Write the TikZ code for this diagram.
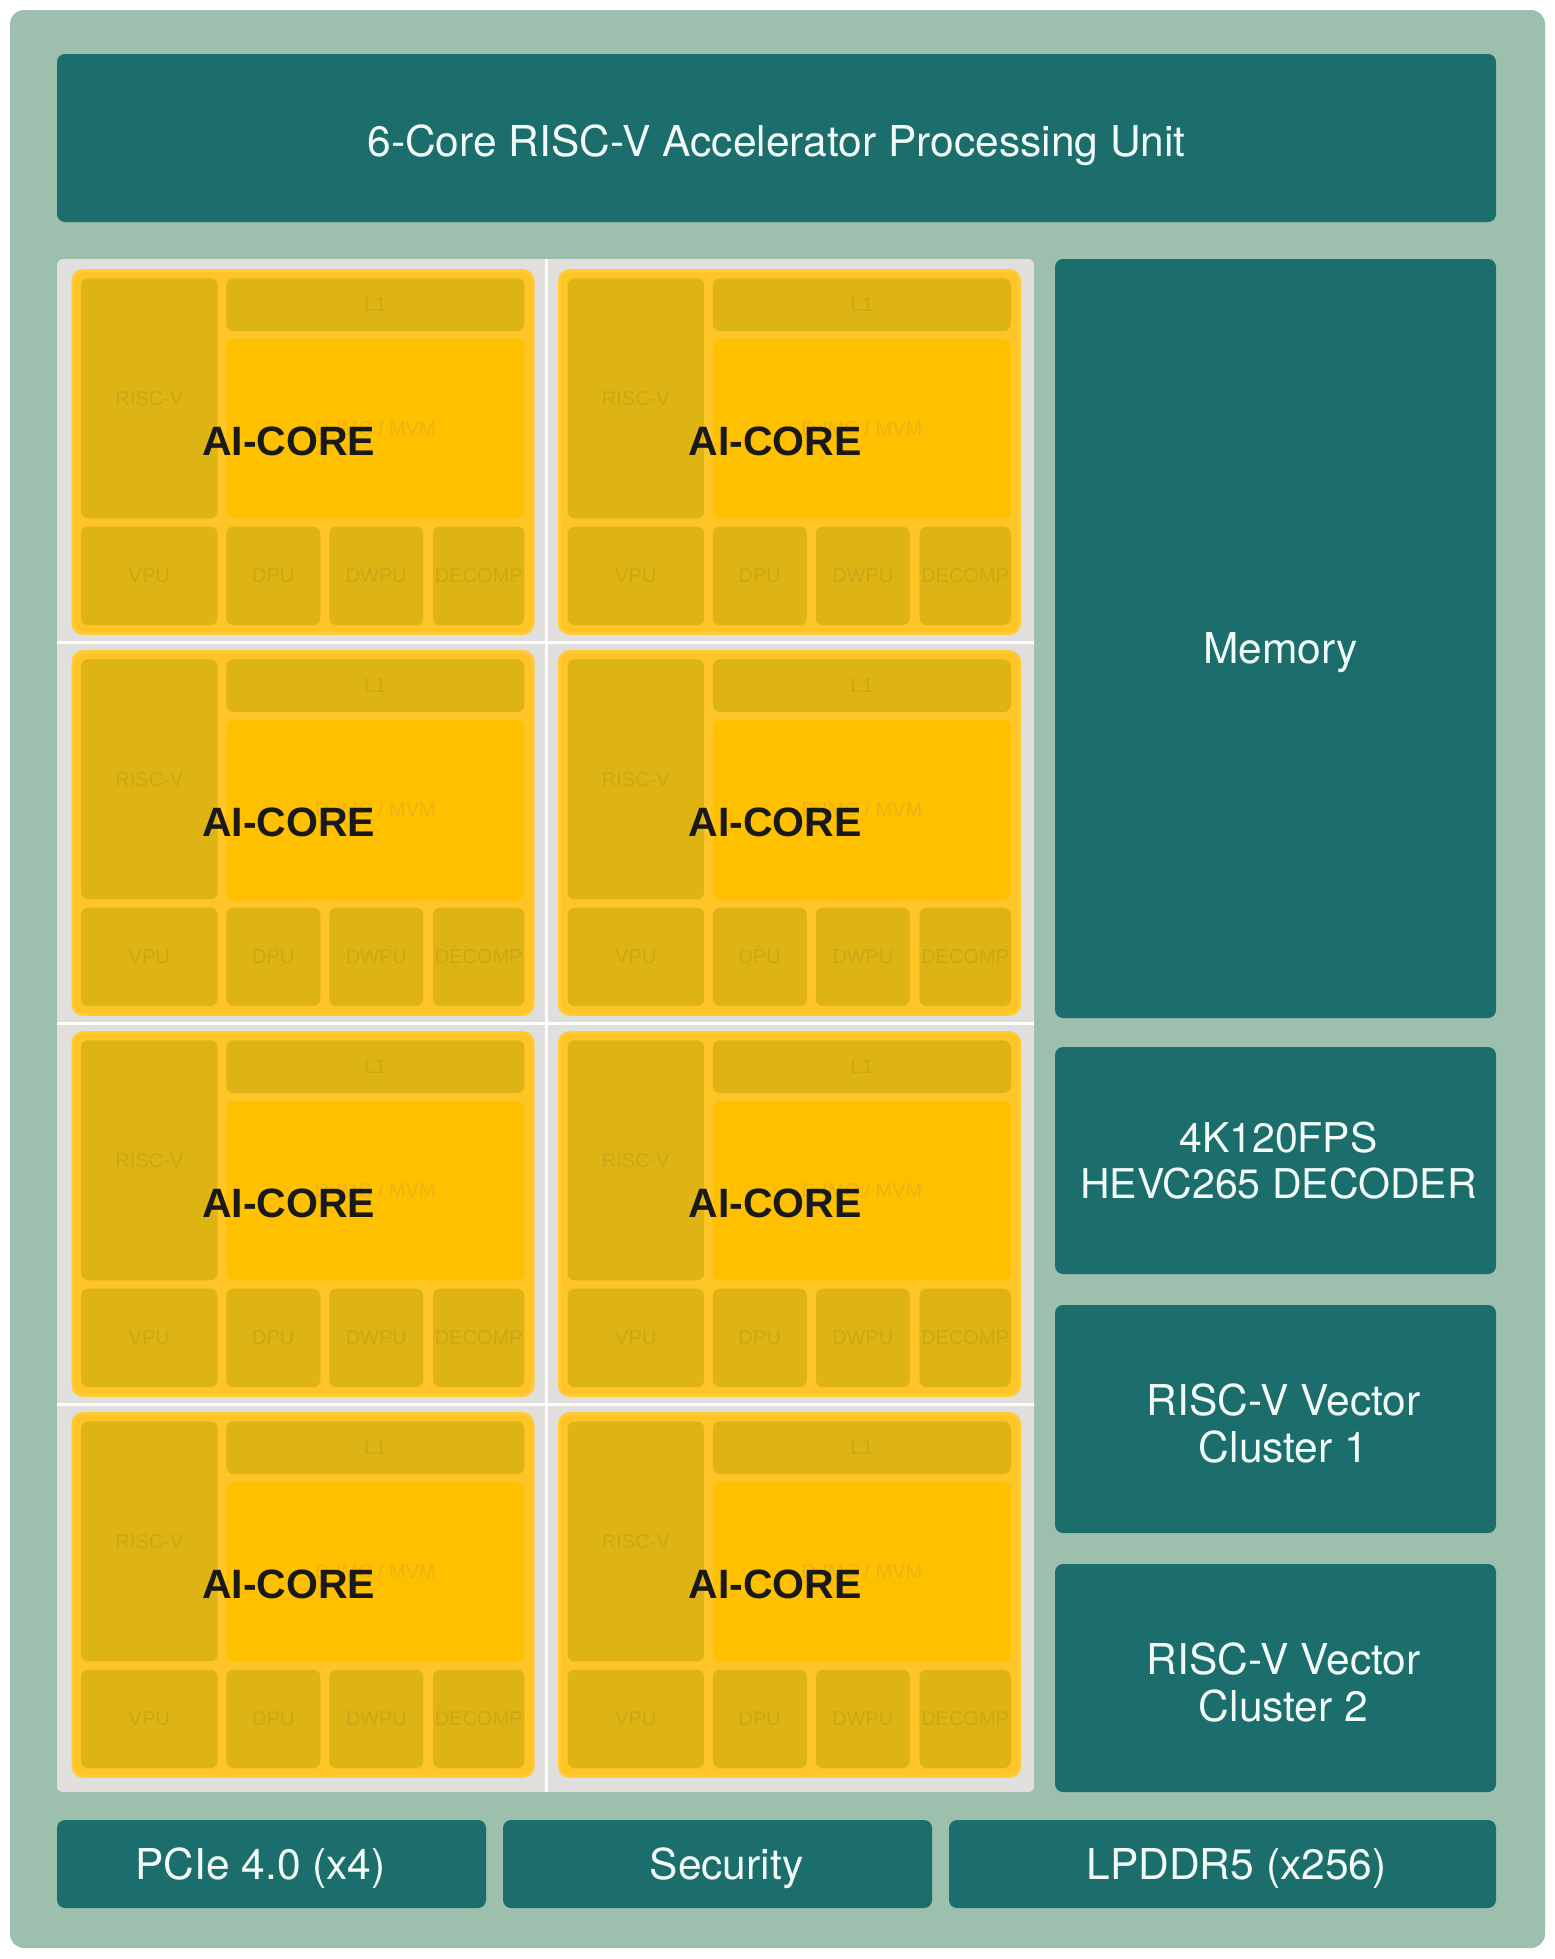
\documentclass[tikz,border=0pt]{standalone}
\usepackage{fontspec}
\setmainfont{TeX Gyre Heros}
\newfontfamily\corefont{Liberation Sans}
\usetikzlibrary{positioning}
\definecolor{sage}{HTML}{9DC0AE}
\definecolor{tealbox}{HTML}{1B6E6B}
\definecolor{chipgray}{HTML}{E1DEDE}
\definecolor{coreyellow}{HTML}{FFC526}
\definecolor{coreedge}{HTML}{FFCB35}
\definecolor{imcyellow}{HTML}{FFC000}
\definecolor{unityellow}{HTML}{DDB413}
\definecolor{unitlabel}{HTML}{CCA715}
\definecolor{imclabel}{HTML}{E9B318}
\definecolor{labelwhite}{HTML}{F2FAF7}
\tikzset{
    %Define style for teal blocks
    tealblk/.style={
           rectangle,
           rounded corners=8bp,
           fill=tealbox,
           anchor=north west,
           inner sep=0pt, outer sep=0pt},
    % Define style for texts on the teal blocks
    tealtxt/.style={
           text=labelwhite,
           inner sep=0pt,
           align=center,
           font=\fontsize{42.5bp}{47bp}\selectfont},
    tealone/.style={
           tealtxt,
           text height=30.5bp, text depth=0pt},
    %Define style for core boxes
    coreblk/.style={
           rectangle,
           rounded corners=10bp,
           fill=coreyellow,
           draw=coreedge, line width=3bp,
           anchor=north west,
           inner sep=0pt, outer sep=0pt,
           minimum width=460bp,
           minimum height=362.6bp},
    % Define style for units inside a core
    unit/.style={
           rectangle,
           rounded corners=7bp,
           fill=unityellow,
           text=unitlabel,
           anchor=north west,
           inner sep=0pt, outer sep=0pt,
           font=\corefont\fontsize{20bp}{22bp}\selectfont},
    corelabel/.style={
           text=black!90,
           inner sep=0pt,
           font=\corefont\bfseries\fontsize{41bp}{45bp}\selectfont}
}
\begin{document}
\begin{tikzpicture}[x=1bp,y=-1bp]
\useasboundingbox (0,0) rectangle (1555,1959);
\fill[sage, rounded corners=14bp] (10,10) rectangle (1545,1948);
% top bar
\node[tealblk, minimum width=1439bp, minimum height=168bp](apu) at (57,54){};
\node[tealone](apulabel) at ([yshift=-3bp]apu.center){6-Core RISC-V Accelerator Processing Unit};
% core array
\node[rectangle, rounded corners=6bp, fill=chipgray, anchor=north west, inner sep=0pt, outer sep=0pt,
  minimum width=977bp, minimum height=1533bp](array) at (57,259){};
\draw[white, line width=3bp] (546.5,259) -- (546.5,1792);
\foreach \y in {642.5,1023.5,1404.5}
  \draw[white, line width=3bp] (57,\y) -- (1034,\y);
\foreach \r in {0,...,3}
  \foreach \c in {0,1}{
  \begin{scope}[shift={(73+486.5*\c,270.7+381*\r)}]
  \node[coreblk](core\r\c) at (0,0){};
  \node[unit, minimum width=136.6bp, minimum height=240bp](risc\r\c) at (8,7.6){RISC-V};
  \node[unit, minimum width=298bp, minimum height=52.7bp](lone\r\c) at (153.3,7.6){L1};
  \node[unit, fill=imcyellow, text=imclabel, minimum width=298bp, minimum height=179.3bp](imc\r\c) at (153.3,68.3){D-IMC / MVM};
  \node[unit, minimum width=136.6bp, minimum height=98.3bp](vpu\r\c) at (8,256){VPU};
  \node[unit, minimum width=94bp, minimum height=98.3bp](dpu\r\c) at (153.3,256){DPU};
  \node[unit, minimum width=94bp, minimum height=98.3bp](dwpu\r\c) at (256.3,256){DWPU};
  \node[unit, minimum width=91.3bp, minimum height=98.3bp](decomp\r\c) at (360,256){DECOMP};
  \node[corelabel](ai\r\c) at (215.6,171){AI-CORE};
  \end{scope}
  }
% right column
\node[tealblk, minimum width=441bp, minimum height=759bp](mem) at (1055,259){};
\node[tealone](memlabel) at ([xshift=5bp,yshift=-10bp]mem.center){Memory};
\node[tealblk, minimum width=441bp, minimum height=227bp](dec) at (1055,1047){};
\node[tealtxt, font=\fontsize{41bp}{46bp}\selectfont](declabel) at ([xshift=3bp]dec.center){4K120FPS\\HEVC265 DECODER};
\node[tealblk, minimum width=441bp, minimum height=228bp](vc1) at (1055,1305){};
\node[tealtxt](vc1label) at ([xshift=8bp,yshift=-4bp]vc1.center){RISC-V Vector\\Cluster 1};
\node[tealblk, minimum width=441bp, minimum height=228bp](vc2) at (1055,1564){};
\node[tealtxt](vc2label) at ([xshift=8bp,yshift=-4bp]vc2.center){RISC-V Vector\\Cluster 2};
% bottom row
\node[tealblk, minimum width=429bp, minimum height=88bp](pcie) at (57,1820){};
\node[tealone](pcielabel) at ([xshift=-11bp]pcie.center){PCIe 4.0 (x4)};
\node[tealblk, minimum width=429bp, minimum height=88bp](sec) at (503,1820){};
\node[tealone](seclabel) at ([xshift=9bp]sec.center){Security};
\node[tealblk, minimum width=547bp, minimum height=88bp](ddr) at (949,1820){};
\node[tealone](ddrlabel) at ([xshift=14bp]ddr.center){LPDDR5 (x256)};
\end{tikzpicture}
\end{document}
